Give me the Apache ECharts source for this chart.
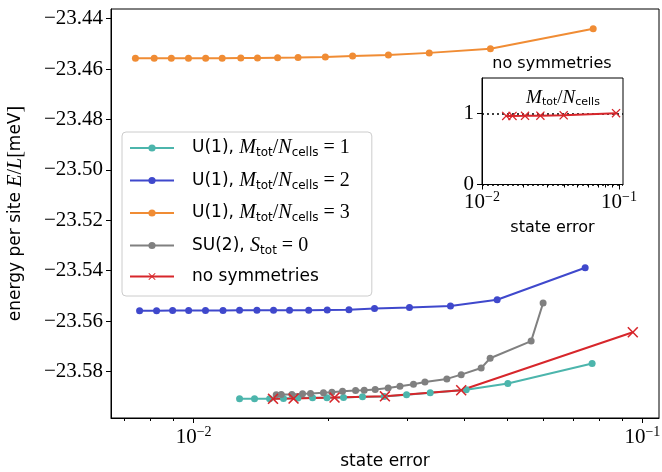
<!DOCTYPE html>
<html>
<head>
<meta charset="utf-8">
<script src="https://cdn.jsdelivr.net/npm/echarts@6/dist/echarts.min.js"></script>
<style>
  html, body { margin: 0; padding: 0; background: #fff; }
  #chart { width: 662px; height: 472px; }
</style>
</head>
<body>
<div id="chart"></div>
<script>
// datos
const tealX = [0.01266, 0.01367, 0.01477, 0.01586, 0.01708, 0.01841, 0.01982, 0.02158, 0.02379, 0.02659, 0.02982, 0.03367, 0.0405, 0.05014, 0.07727];
const tealY = [-23.5908, -23.5908, -23.5908, -23.5907, -23.5905, -23.5904, -23.5904, -23.5903, -23.5900, -23.5899, -23.5892, -23.5884, -23.5872, -23.5847, -23.5768];

const blueX = [0.00758, 0.00827, 0.00898, 0.00975, 0.01063, 0.01163, 0.01266, 0.01384, 0.01507, 0.01636, 0.01805, 0.01985, 0.02219, 0.0253, 0.03027, 0.03736, 0.04747, 0.07456];
const blueY = [-23.5559, -23.5559, -23.5558, -23.5558, -23.5558, -23.5558, -23.5557, -23.5557, -23.5557, -23.5557, -23.5557, -23.5556, -23.5555, -23.5550, -23.5546, -23.5540, -23.5515, -23.5388];

const orangeX = [0.00742, 0.00817, 0.00892, 0.00974, 0.01064, 0.01158, 0.01274, 0.01388, 0.01539, 0.01709, 0.01966, 0.02261, 0.02717, 0.0335, 0.04586, 0.0777];
const orangeY = [-23.4557, -23.4557, -23.4557, -23.4557, -23.4557, -23.4557, -23.4556, -23.4556, -23.4555, -23.4554, -23.4552, -23.4548, -23.4544, -23.4536, -23.4520, -23.4440];

const grayX = [0.01528, 0.01568, 0.01656, 0.01749, 0.01822, 0.01947, 0.02033, 0.02147, 0.02296, 0.024, 0.02539, 0.02714, 0.02883, 0.0309, 0.03277, 0.03667, 0.03947, 0.04373, 0.04579, 0.05651, 0.06009];
const grayY = [-23.5892, -23.5891, -23.5891, -23.5888, -23.5887, -23.5884, -23.5882, -23.5878, -23.5875, -23.5874, -23.5871, -23.5865, -23.5858, -23.5850, -23.5841, -23.5829, -23.5812, -23.5786, -23.5747, -23.5679, -23.5528];

const redX = [0.01503, 0.0167, 0.02061, 0.02669, 0.03947, 0.0952];
const redY = [-23.5908, -23.5907, -23.5903, -23.5898, -23.5874, -23.5644];
const redMratio = [0.966, 0.966, 0.967, 0.969, 0.975, 1.005];

const yTicks = [-23.58, -23.56, -23.54, -23.52, -23.50, -23.48, -23.46, -23.44];
const xMajor = [0.01, 0.1];
const xMinor = [0.007, 0.008, 0.009, 0.02, 0.03, 0.04, 0.05, 0.06, 0.07, 0.08, 0.09];
const insetXMinor = [0.02, 0.03, 0.04, 0.05, 0.06, 0.07, 0.08, 0.09];
const insetYTicks = [0, 1];
const insetRefLines = [0, 1];

const names = ['U(1), M=1', 'U(1), M=2', 'U(1), M=3', 'SU(2), S=0', 'no symmetries'];
const legendRich = {
    'U(1), M=1': '{sp|}{sans|U(1), }{mi|M}{sub|tot}{rm|/}{mi|N}{sub|cells}{rm| = 1}',
    'U(1), M=2': '{sp|}{sans|U(1), }{mi|M}{sub|tot}{rm|/}{mi|N}{sub|cells}{rm| = 2}',
    'U(1), M=3': '{sp|}{sans|U(1), }{mi|M}{sub|tot}{rm|/}{mi|N}{sub|cells}{rm| = 3}',
    'SU(2), S=0': '{sp|}{sans|SU(2), }{mi|S}{sub|tot}{rm| = 0}',
    'no symmetries': '{sp|}{sans|no symmetries}'
};

const zip = (xs, ys) => xs.map((x, i) => [x, ys[i]]);

const rich = {
    sans: { fontFamily: 'DejaVu Sans', fontSize: 17, color: '#000', lineHeight: 22 },
    mi: { fontFamily: 'Liberation Serif', fontStyle: 'italic', fontSize: 20, color: '#000', lineHeight: 22 },
    rm: { fontFamily: 'Liberation Serif', fontSize: 20, color: '#000', lineHeight: 22 },
    sub: { fontFamily: 'DejaVu Sans', fontSize: 12, color: '#000', verticalAlign: 'bottom', lineHeight: 22 },
    sp: { width: 13 }
};
const tickRich = {
    b: { fontFamily: 'Liberation Serif', fontSize: 21, color: '#000', lineHeight: 24 },
    s: { fontFamily: 'Liberation Serif', fontSize: 14, color: '#000', verticalAlign: 'top', lineHeight: 24 }
};
const powLabel = v => '{b|10}{s|\u2212' + Math.round(-Math.log10(v)) + '}';

const X_PATH = 'path://M0,1L1,0L5,4L9,0L10,1L6,5L10,9L9,10L5,6L1,10L0,9L4,5Z';

const mainRect = { left: 111, top: 9, width: 548, height: 409 };
const insetRect = { left: 482, top: 78, width: 141, height: 106.5 };
const mainX = { min: 0.006546, max: 0.1089 };
const insetX = { min: 0.01, max: 0.107 };

function lineSeries(name, data, color, symbol, size) {
    return {
        name, type: 'line', data,
        xAxisIndex: 0, yAxisIndex: 0,
        symbol, symbolSize: size,
        lineStyle: { color, width: 2 },
        itemStyle: { color },
        emphasis: { disabled: true },
        animation: false
    };
}

const chart = echarts.init(document.getElementById('chart'));
chart.setOption({
    backgroundColor: '#fff',
    animation: false,
    grid: [
        Object.assign({ show: true, borderColor: '#000', borderWidth: 1, backgroundColor: 'transparent', outerBoundsMode: 'none' }, mainRect),
        Object.assign({ show: true, borderColor: '#000', borderWidth: 1, backgroundColor: '#fff', z: 5, outerBoundsMode: 'none' }, insetRect),
        Object.assign({ outerBoundsMode: 'none' }, mainRect),
        Object.assign({ outerBoundsMode: 'none' }, insetRect)
    ],
    legend: {
        data: names,
        orient: 'vertical',
        left: 122, top: 132,
        padding: [6, 22, 11, 7],
        itemGap: 11.5,
        itemWidth: 44, itemHeight: 9,
        backgroundColor: 'rgba(255,255,255,0.85)',
        borderColor: '#cccccc', borderWidth: 1, borderRadius: 4,
        formatter: n => legendRich[n],
        textStyle: { rich }
    },
    xAxis: [
        {
            gridIndex: 0, type: 'log', logBase: 10, min: mainX.min, max: mainX.max,
            axisLine: { show: true, lineStyle: { color: '#000', width: 1 } },
            axisTick: { show: true, length: 5, customValues: xMajor, lineStyle: { color: '#000' } },
            axisLabel: { customValues: xMajor, margin: 7, formatter: powLabel, rich: tickRich },
            splitLine: { show: false },
            name: 'state error', nameLocation: 'middle', nameGap: 35,
            nameTextStyle: { fontFamily: 'DejaVu Sans', fontSize: 17, color: '#000' }
        },
        {
            gridIndex: 1, type: 'log', logBase: 10, min: insetX.min, max: insetX.max,
            axisLine: { show: true, lineStyle: { color: '#000', width: 1 } },
            axisTick: { show: true, length: 5, customValues: xMajor, lineStyle: { color: '#000' } },
            axisLabel: { customValues: xMajor, margin: 6, formatter: powLabel, rich: tickRich },
            splitLine: { show: false },
            name: 'state error', nameLocation: 'middle', nameGap: 35,
            nameTextStyle: { fontFamily: 'DejaVu Sans', fontSize: 16, color: '#000' },
            z: 6
        },
        {
            gridIndex: 2, type: 'log', logBase: 10, min: mainX.min, max: mainX.max,
            axisLine: { show: false },
            axisTick: { show: true, length: 3, customValues: xMinor, lineStyle: { color: '#000' } },
            axisLabel: { show: false },
            splitLine: { show: false }
        },
        {
            gridIndex: 3, type: 'log', logBase: 10, min: insetX.min, max: insetX.max,
            axisLine: { show: false },
            axisTick: { show: true, length: 3, customValues: insetXMinor, lineStyle: { color: '#000' } },
            axisLabel: { show: false },
            splitLine: { show: false },
            z: 6
        }
    ],
    yAxis: [
        {
            gridIndex: 0, type: 'value', min: -23.5984, max: -23.4362,
            axisLine: { show: true, lineStyle: { color: '#000', width: 1 } },
            axisTick: { show: true, length: 5, customValues: yTicks, lineStyle: { color: '#000' } },
            axisLabel: {
                customValues: yTicks, margin: 8,
                formatter: v => '\u2212' + Math.abs(v).toFixed(2),
                fontFamily: 'Liberation Serif', fontSize: 21, color: '#000'
            },
            splitLine: { show: false },
            name: '{sans|energy per site }{mi|E}{rm|/}{mi|L}{rm|[}{sans|meV}{rm|]}',
            nameLocation: 'middle', nameRotate: 90, nameGap: 84,
            nameTextStyle: { rich }
        },
        {
            gridIndex: 1, type: 'value', min: 0, max: 1.5,
            axisLine: { show: true, lineStyle: { color: '#000', width: 1 } },
            axisTick: { show: true, length: 5, customValues: insetYTicks, lineStyle: { color: '#000' } },
            axisLabel: { customValues: insetYTicks, margin: 8, fontFamily: 'Liberation Serif', fontSize: 21, color: '#000' },
            splitLine: { show: false },
            z: 6
        },
        { gridIndex: 2, type: 'value', show: false, min: 0, max: 1 },
        { gridIndex: 3, type: 'value', show: false, min: 0, max: 1 }
    ],
    graphic: [
        {
            type: 'text', z: 10,
            style: { x: 552, y: 64, text: 'no symmetries', textAlign: 'center', textVerticalAlign: 'middle', font: '16px "DejaVu Sans"', fill: '#000' }
        },
        {
            type: 'text', z: 10,
            style: {
                x: 563, y: 98, textAlign: 'center', textVerticalAlign: 'middle',
                text: '{mi|M}{sub|tot}{rm|/}{mi|N}{sub|cells}',
                rich: {
                    mi: { fontFamily: 'Liberation Serif', fontStyle: 'italic', fontSize: 19, fill: '#000', lineHeight: 20 },
                    rm: { fontFamily: 'Liberation Serif', fontSize: 19, fill: '#000', lineHeight: 20 },
                    sub: { fontFamily: 'DejaVu Sans', fontSize: 11, fill: '#000', verticalAlign: 'bottom', lineHeight: 20 }
                }
            }
        }
    ],
    series: [
        lineSeries(names[0], zip(tealX, tealY), '#4cb5ac', 'circle', 7),
        lineSeries(names[1], zip(blueX, blueY), '#3f48cc', 'circle', 7),
        lineSeries(names[2], zip(orangeX, orangeY), '#f08c34', 'circle', 7),
        lineSeries(names[3], zip(grayX, grayY), '#808080', 'circle', 7),
        lineSeries(names[4], zip(redX, redY), '#d7262b', X_PATH, 11),
        {
            name: 'inset', type: 'line', xAxisIndex: 1, yAxisIndex: 1,
            data: zip(redX, redMratio),
            symbol: X_PATH, symbolSize: 9,
            lineStyle: { color: '#d7262b', width: 2 },
            itemStyle: { color: '#d7262b' },
            z: 7,
            emphasis: { disabled: true },
            markLine: {
                silent: true, symbol: 'none', z: 6,
                label: { show: false },
                lineStyle: { color: '#000', type: [2, 3], width: 1.5 },
                data: insetRefLines.map(v => ({ yAxis: v }))
            }
        }
    ]
});
</script>
</body>
</html>
